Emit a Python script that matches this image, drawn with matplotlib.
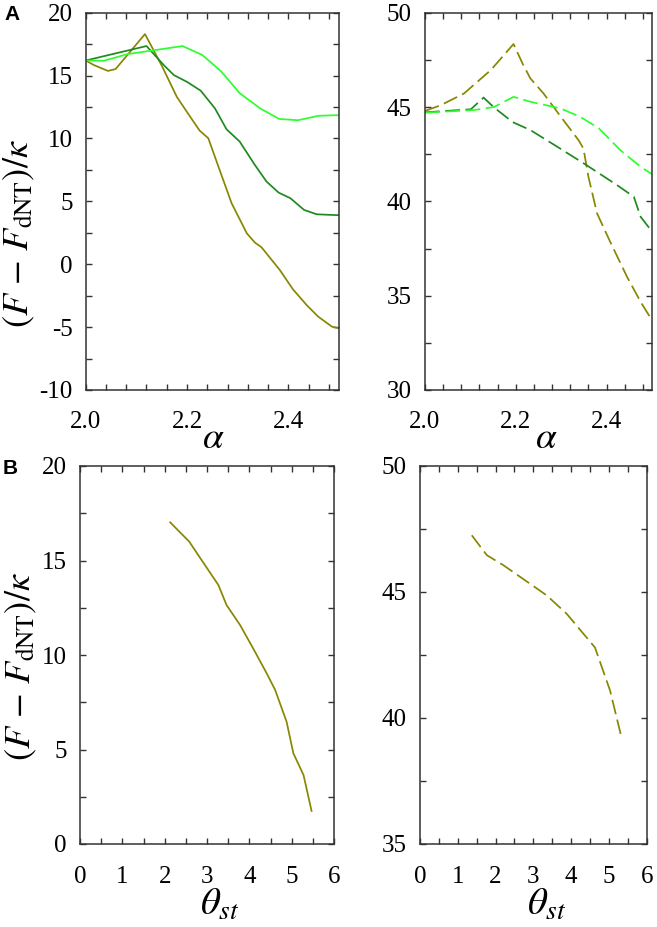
import matplotlib
matplotlib.use("Agg")
import matplotlib.pyplot as plt
from matplotlib.ticker import MultipleLocator, FormatStrFormatter

plt.rcParams['font.family'] = ['Liberation Serif', 'DejaVu Serif']
plt.rcParams['mathtext.fontset'] = 'stix'
plt.rcParams['axes.unicode_minus'] = False

# ---- Data ----
# Panel A left (solid): F vs alpha
a_olive = [2.000, 2.016, 2.044, 2.059, 2.117, 2.150, 2.180, 2.205, 2.225, 2.242, 2.262,
           2.288, 2.318, 2.334, 2.347, 2.383, 2.409, 2.436, 2.459, 2.486, 2.500]
f_olive = [16.2, 15.84, 15.37, 15.52, 18.3, 15.8, 13.3, 11.8, 10.62, 10.02, 7.76,
           4.85, 2.46, 1.72, 1.35, -0.45, -1.99, -3.24, -4.17, -4.96, -5.1]
a_dgreen = [2.000, 2.120, 2.154, 2.174, 2.200, 2.227, 2.255, 2.278, 2.304, 2.334,
            2.357, 2.381, 2.404, 2.431, 2.456, 2.486, 2.500]
f_dgreen = [16.2, 17.35, 15.84, 15.04, 14.5, 13.8, 12.4, 10.73, 9.75, 7.89,
            6.57, 5.69, 5.25, 4.32, 3.97, 3.92, 3.9]
a_lime = [2.000, 2.036, 2.082, 2.191, 2.230, 2.253, 2.268, 2.304, 2.344, 2.382,
          2.419, 2.459, 2.486, 2.500]
f_lime = [16.2, 16.18, 16.7, 17.35, 16.64, 15.84, 15.3, 13.6, 12.4, 11.55,
          11.45, 11.8, 11.84, 11.85]

# Panel A right (dashed)
a_olive_d = [2.000, 2.035, 2.086, 2.145, 2.195, 2.215, 2.232, 2.261, 2.305, 2.338,
             2.349, 2.360, 2.379, 2.408, 2.445, 2.475, 2.500]
f_olive_d = [44.79, 45.1, 45.72, 46.96, 48.34, 47.3, 46.52, 45.72, 44.3, 43.25,
             42.8, 41.3, 39.36, 37.85, 36.0, 34.67, 33.7]
a_dgreen_d = [2.000, 2.101, 2.129, 2.152, 2.193, 2.232, 2.291, 2.357, 2.423, 2.460, 2.475, 2.500]
f_dgreen_d = [44.72, 44.88, 45.5, 44.98, 44.2, 43.78, 42.9, 41.9, 40.86, 40.24, 39.18, 38.4]
a_lime_d = [2.000, 2.108, 2.152, 2.195, 2.232, 2.298, 2.342, 2.383, 2.430, 2.475, 2.500]
f_lime_d = [44.7, 44.84, 45.0, 45.54, 45.28, 44.93, 44.48, 43.87, 42.72, 41.83, 41.44]

# Panel B
th_b = [2.13, 2.58, 2.87, 3.27, 3.46, 3.78, 4.09, 4.41, 4.61, 4.88, 5.04, 5.28, 5.47]
f_b = [17.02, 16.0, 15.03, 13.7, 12.65, 11.59, 10.35, 9.03, 8.15, 6.47, 4.8, 3.65, 1.75]
th_b_d = [1.37, 1.77, 2.21, 2.91, 3.35, 3.88, 4.63, 5.03, 5.31]
f_b_d = [47.25, 46.46, 46.06, 45.33, 44.87, 44.14, 42.8, 41.09, 39.37]

OLIVE = '#878700'
DGREEN = '#1f8a1f'
LIME = '#2cff2c'
SPINE = '#333333'

fig = plt.figure(figsize=(6.57, 9.27), dpi=100)

W, H = 657.0, 927.0
def add_ax(x0, y0, x1, y1):
    return fig.add_axes([x0 / W, 1 - y1 / H, (x1 - x0) / W, (y1 - y0) / H])

ax_tl = add_ax(85.7, 12.7, 339, 390)
ax_tr = add_ax(425, 12.7, 652, 390)
ax_bl = add_ax(80, 466, 334, 844)
ax_br = add_ax(420, 466, 646.7, 844)

def style(ax, xlim, ylim, xmaj, xmin, ymaj, ymin, xfmt, xpad):
    ax.set_xlim(*xlim)
    ax.set_ylim(*ylim)
    ax.xaxis.set_major_locator(MultipleLocator(xmaj))
    ax.xaxis.set_minor_locator(MultipleLocator(xmin))
    ax.yaxis.set_major_locator(MultipleLocator(ymaj))
    ax.yaxis.set_minor_locator(MultipleLocator(ymin))
    ax.xaxis.set_major_formatter(FormatStrFormatter(xfmt))
    ax.yaxis.set_major_formatter(FormatStrFormatter('%d'))
    for s in ax.spines.values():
        s.set_linewidth(1.1)
        s.set_color(SPINE)
    ax.tick_params(which='both', direction='in', top=True, right=True,
                   length=4.3, width=1.0, color=SPINE, labelsize=18)
    ax.tick_params(axis='x', which='major', pad=xpad)
    ax.tick_params(axis='y', which='major', pad=9.5)

style(ax_tl, (2.0, 2.5), (-10, 20), 0.2, 0.04, 5, 2.5, '%.1f', 15)
style(ax_tr, (2.0, 2.5), (30, 50), 0.2, 0.04, 5, 2.5, '%.1f', 15)
style(ax_bl, (0, 6), (0, 20), 1, 0.5, 5, 2.5, '%d', 16)
style(ax_br, (0, 6), (35, 50), 1, 0.5, 5, 2.5, '%d', 16)

LW = 1.25
ax_tl.plot(a_olive, f_olive, color=OLIVE, lw=LW)
ax_tl.plot(a_dgreen, f_dgreen, color=DGREEN, lw=LW)
ax_tl.plot(a_lime, f_lime, color=LIME, lw=LW)

DASH = (8.5, 3.2)
ax_tr.plot(a_olive_d, f_olive_d, color=OLIVE, lw=LW, dashes=DASH)
ax_tr.plot(a_dgreen_d, f_dgreen_d, color=DGREEN, lw=LW, dashes=DASH)
ax_tr.plot(a_lime_d, f_lime_d, color=LIME, lw=LW, dashes=DASH)

ax_bl.plot(th_b, f_b, color=OLIVE, lw=LW)
ax_br.plot(th_b_d, f_b_d, color=OLIVE, lw=LW, dashes=DASH)

# axis labels
for ax, xf in ((ax_tl, 0.503), (ax_tr, 0.536)):
    ax.text(xf, -0.128, r'$\alpha$', transform=ax.transAxes, ha='center',
            va='center', fontsize=27)
for ax, xf in ((ax_bl, 0.551), (ax_br, 0.559)):
    ax.text(xf, -0.163, r'$\theta_{st}$', transform=ax.transAxes, ha='center',
            va='center', fontsize=28)

ylab = r'$(F\,-\,F_{\rm dNT})/\kappa$'
fig.text(19 / W, 1 - 234 / H, ylab, rotation=90, ha='center', va='center', fontsize=26)
fig.text(21 / W, 1 - 667 / H, ylab, rotation=90, ha='center', va='center', fontsize=26)

# panel labels
fig.text(4 / W, 1 - 15 / H, 'A', fontsize=15, fontweight='bold',
         family='Liberation Sans', ha='left', va='center')
fig.text(3 / W, 1 - 469 / H, 'B', fontsize=15, fontweight='bold',
         family='Liberation Sans', ha='left', va='center')

fig.savefig('out.png', dpi=100)
